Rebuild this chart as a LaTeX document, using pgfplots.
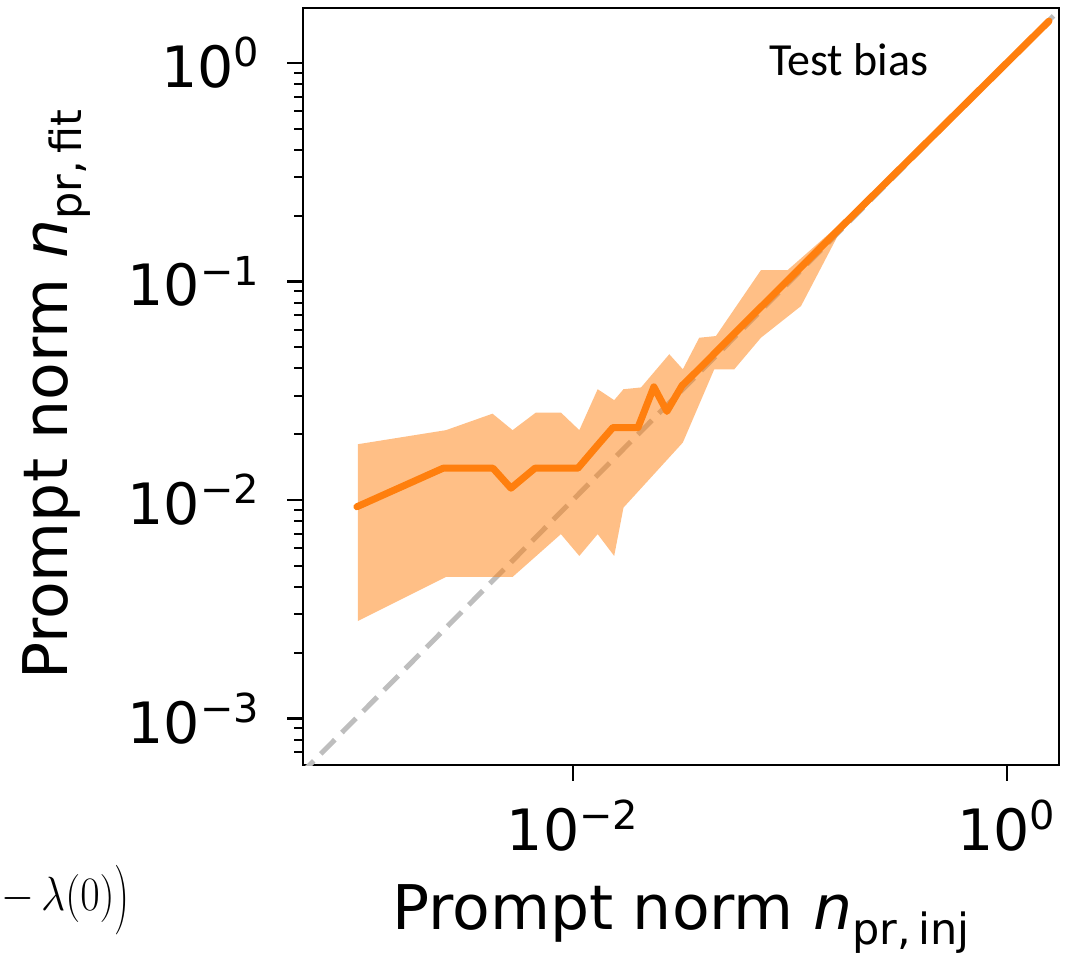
\documentclass[border=0pt]{standalone}
\usepackage{fix-cm}
\usepackage{graphicx}
\usepackage[no-math]{fontspec}
\setmainfont{DejaVu Sans}
\newfontfamily\carlito{Carlito}
\usepackage{pgfplots}
\pgfplotsset{compat=1.18}
\definecolor{tabOrange}{RGB}{255,127,14}
\definecolor{diagc}{RGB}{190,190,190}
\newcommand{\sbs}[1]{\raisebox{-0.24em}{\fontsize{21.5}{22}\selectfont #1}}

\pgfplotstableread{
x y
0.00101 0.0093
0.00252 0.01396
0.00428 0.01396
0.00518 0.01131
0.00668 0.01396
0.00881 0.01396
0.01054 0.01396
0.01303 0.01786
0.01528 0.02143
0.01698 0.02143
0.01994 0.02143
0.0236 0.0329
0.0271 0.0254
0.0318 0.0333
0.0381 0.0397
0.0456 0.0475
0.0735 0.0763
0.098 0.1014
0.165 0.170
1.563 1.552
}\meanline

% band outline: upper edge left to right, then lower edge right to left
\pgfplotstableread{
x y
0.00102 0.01798
0.0026 0.02085
0.00426 0.0248
0.00527 0.02085
0.00675 0.0251
0.0088 0.0251
0.0107 0.02085
0.0130 0.0321
0.01549 0.0286
0.0171 0.0321
0.0206 0.0327
0.0278 0.0464
0.0321 0.0396
0.0382 0.0552
0.0456 0.0562
0.0735 0.1125
0.0975 0.1125
0.166 0.179
1.563 1.552
0.166 0.1614
0.1125 0.0771
0.0735 0.0552
0.0554 0.0396
0.0448 0.0396
0.0321 0.0183
0.0171 0.00922
0.01549 0.00554
0.0130 0.00697
0.0107 0.00554
0.0088 0.00697
0.00527 0.00444
0.0026 0.00444
0.00102 0.00279
}\bandtab

\begin{document}
\begin{tikzpicture}
\path[use as bounding box] (0,0) rectangle (535.5pt,477pt);
\begin{axis}[
  at={(151.5pt,94.5pt)}, anchor=south west,
  scale only axis, width=378pt, height=378.5pt,
  xmode=log, ymode=log,
  xmin=5.70e-4, xmax=1.738, ymin=6.12e-4, ymax=1.782,
  xtick={1e-2,1},
  xticklabels={10\textsuperscript{−2},10\textsuperscript{0}},
  ytick={1e-3,1e-2,1e-1,1},
  yticklabels={10\textsuperscript{−3},10\textsuperscript{−2},10\textsuperscript{−1},10\textsuperscript{0}},
  minor ytick={7e-4,8e-4,9e-4,2e-3,3e-3,4e-3,5e-3,6e-3,7e-3,8e-3,9e-3,0.02,0.03,0.04,0.05,0.06,0.07,0.08,0.09,0.2,0.3,0.4,0.5,0.6,0.7,0.8,0.9},
  xminorticks=false,
  tick align=outside, tick pos=left,
  major tick length=8pt, minor tick length=4.5pt,
  major tick style={black, line width=1.2pt},
  minor tick style={black, line width=1pt},
  axis line style={line width=1.25pt},
  tick label style={font=\fontsize{28.5}{30}\selectfont},
  yticklabel style={xshift=-10pt},
  xticklabel style={yshift=-6pt},
  label style={font=\fontsize{30.8}{32}\selectfont},
  xlabel={Prompt norm \textit{n}\sbs{pr,\,inj}},
  ylabel={Prompt norm \textit{n}\sbs{pr,\,fit}},
  xlabel style={at={(axis description cs:0.5,-0.217)}, anchor=base},
  ylabel style={at={(axis description cs:-0.312,0.489)}, anchor=base},
]
\addplot[diagc, line width=2.5pt, dash pattern=on 10pt off 5pt] coordinates {(5.5e-4,5.5e-4) (1.7,1.7)};
\addplot[fill=tabOrange, fill opacity=0.5, draw=none] table {\bandtab};
\addplot[tabOrange, line width=3.5pt, line join=round, line cap=round] table {\meanline};
\node[anchor=base, font=\carlito\fontsize{23}{25}\selectfont] at (axis description cs:0.722,0.9115) {Test bias};
\end{axis}
\node[anchor=east, inner sep=0pt, font=\fontsize{24}{28}\selectfont] at (65pt,27pt) {\scalebox{0.88}[1]{$-\,\lambda(0)\raisebox{-0.14em}{\scalebox{1}[1.45]{$)$}}$}};
\end{tikzpicture}
\end{document}
